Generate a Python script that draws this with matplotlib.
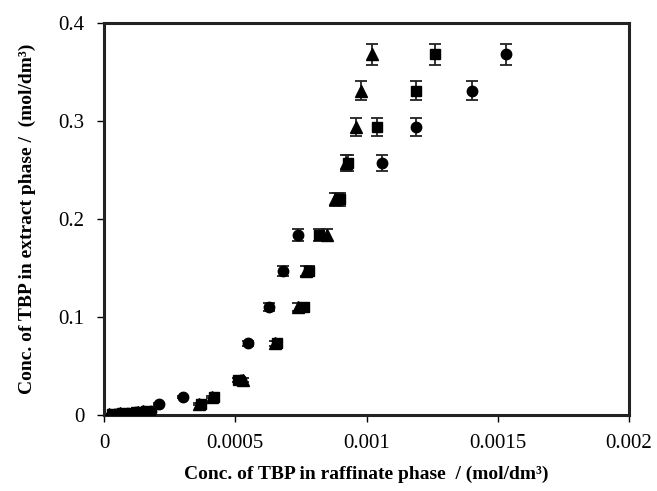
import matplotlib
matplotlib.use("Agg")
import matplotlib.pyplot as plt

plt.rcParams['font.family'] = ['Liberation Serif', 'DejaVu Serif']

# shared concentration levels in the extract phase (mol/dm3)
y_levels = [0.001, 0.002, 0.003, 0.004, 0.011, 0.018, 0.036, 0.073,
            0.110, 0.147, 0.184, 0.220, 0.257, 0.294, 0.331, 0.368]
y_err = [0.0, 0.0, 0.0, 0.0, 0.001, 0.001, 0.002, 0.003,
         0.004, 0.005, 0.006, 0.007, 0.008, 0.009, 0.010, 0.011]

# raffinate phase concentrations for each series
x_circle = [0.00004, 0.00009, 0.00012, 0.00018, 0.00021, 0.00030, 0.00052, 0.00055,
            0.00063, 0.00068, 0.00074, 0.00089, 0.00106, 0.00119, 0.00140, 0.00153]
y_circle = [0.001, 0.002, 0.003, 0.004, 0.011, 0.018, 0.036, 0.073,
            0.110, 0.147, 0.184, 0.220, 0.257, 0.294, 0.331, 0.368]
x_square = [0.00003, 0.00007, 0.00012, 0.00016, 0.00037, 0.00042, 0.00051, 0.00066,
            0.00076, 0.00078, 0.00082, 0.00090, 0.00093, 0.00104, 0.00119, 0.00126]
x_triangle = [0.00002, 0.00006, 0.00013, 0.00015, 0.00036, 0.00041, 0.00053, 0.00065,
              0.00074, 0.00077, 0.00085, 0.00088, 0.00092, 0.00096, 0.00098, 0.00102]

x_ticks = [0, 0.0005, 0.001, 0.0015, 0.002]
x_labels = ['0', '0.0005', '0.001', '0.0015', '0.002']
y_ticks = [0, 0.1, 0.2, 0.3, 0.4]
y_labels = ['0', '0.1', '0.2', '0.3', '0.4']

fig = plt.figure(figsize=(6.57, 4.91), dpi=100)
ax = fig.add_axes([104 / 657, 1 - 415 / 491, 525 / 657, 392 / 491])

series = [(x_triangle, y_levels, '^', 9),
          (x_square, y_levels, 's', 7),
          (x_circle, y_circle, 'o', 7.5)]
for xs, ys, mk, ms in series:
    ax.errorbar(xs, ys, yerr=y_err, fmt=mk, color='black', ms=ms,
                ecolor='#222222', elinewidth=1.3, capsize=4, capthick=1.3,
                zorder=3)

ax.set_xlim(0, 0.002)
ax.set_ylim(0, 0.4)
ax.set_xticks(x_ticks)
ax.set_xticklabels(x_labels)
ax.set_yticks(y_ticks)
ax.set_yticklabels(y_labels)
ax.tick_params(direction='out', length=5, width=1, labelsize=15, pad=9)

for sp in ax.spines.values():
    sp.set_linewidth(2.2)
    sp.set_color('#222222')

ax.set_xlabel('Conc. of TBP in raffinate phase  / (mol/dm³)',
              fontsize=14, fontweight='bold', labelpad=9)
ax.set_ylabel('Conc. of TBP in extract phase /  (mol/dm³)',
              fontsize=14, fontweight='bold', labelpad=16)

fig.savefig('out.png', dpi=100)
